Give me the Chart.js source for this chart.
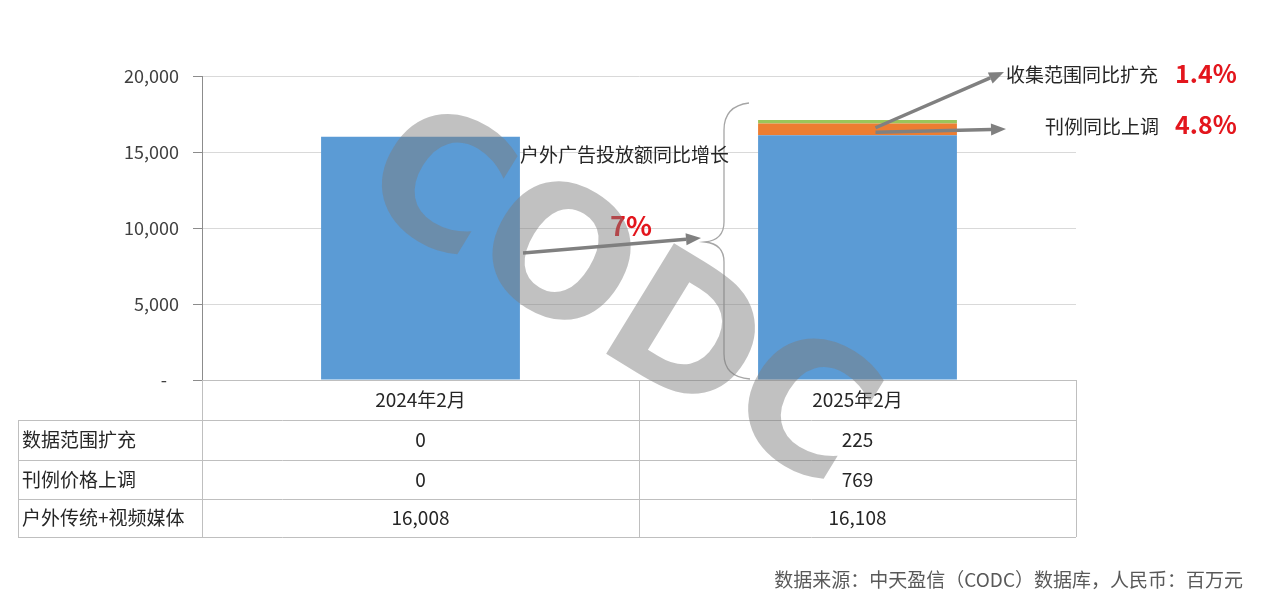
<!DOCTYPE html>
<html>
<head>
<meta charset="utf-8">
<script src="https://cdn.jsdelivr.net/npm/chart.js@4.4.1/dist/chart.umd.min.js"></script>
<style>
html,body{margin:0;padding:0;background:#fff;}
#wrap{width:1286px;height:612px;position:relative;}
</style>
</head>
<body>
<div id="wrap"><canvas id="c"></canvas></div>
<script>
const categories = ['2024年2月', '2025年2月'];
const baseMedia = [16008, 16108];      // 户外传统+视频媒体
const priceUp = [0, 769];              // 刊例价格上调
const scopeUp = [0, 225];              // 数据范围扩充
const seriesNames = ['户外传统+视频媒体', '刊例价格上调', '数据范围扩充'];
const yTicks = [0, 5000, 10000, 15000, 20000];
const growthTotal = '7%';
const growthScope = '1.4%';
const growthPrice = '4.8%';

const FONT = '"Noto Sans CJK SC", "Noto Sans", sans-serif';
const fmt = v => v.toLocaleString('en-US');

function arrow(ctx, x1, y1, x2, y2) {
  const ang = Math.atan2(y2 - y1, x2 - x1);
  const hl = 15, hw = 6;
  const bx = x2 - hl * Math.cos(ang), by = y2 - hl * Math.sin(ang);
  ctx.save();
  ctx.strokeStyle = '#808080';
  ctx.fillStyle = '#808080';
  ctx.lineWidth = 3.5;
  ctx.beginPath(); ctx.moveTo(x1, y1); ctx.lineTo(bx, by); ctx.stroke();
  ctx.beginPath();
  ctx.moveTo(x2, y2);
  ctx.lineTo(bx + hw * Math.sin(ang), by - hw * Math.cos(ang));
  ctx.lineTo(bx - hw * Math.sin(ang), by + hw * Math.cos(ang));
  ctx.closePath(); ctx.fill();
  ctx.restore();
}

const extras = {
  id: 'extras',
  afterDraw(chart) {
    const ctx = chart.ctx;
    const xs = chart.scales.x, ys = chart.scales.y;
    const area = chart.chartArea;
    const L = 18, R = area.right, top = area.bottom;
    const rowsY = [top, top + 40, top + 80, top + 119, top + 157];
    // table lines
    ctx.save();
    ctx.strokeStyle = '#bfbfbf';
    ctx.lineWidth = 1;
    ctx.beginPath();
    ctx.moveTo(area.left, rowsY[0] + 0.5); ctx.lineTo(R, rowsY[0] + 0.5);
    for (let i = 1; i < rowsY.length; i++) { ctx.moveTo(L, rowsY[i] + 0.5); ctx.lineTo(R, rowsY[i] + 0.5); }
    ctx.moveTo(L + 0.5, rowsY[1]); ctx.lineTo(L + 0.5, rowsY[4]);
    const mid = (xs.getPixelForValue(0) + xs.getPixelForValue(1)) / 2;
    [area.left, mid, R].forEach(x => { ctx.moveTo(Math.round(x) + 0.5, rowsY[0]); ctx.lineTo(Math.round(x) + 0.5, rowsY[4]); });
    ctx.stroke();
    // table text
    ctx.fillStyle = '#262626';
    ctx.font = '19px ' + FONT;
    ctx.textBaseline = 'middle';
    ctx.textAlign = 'center';
    categories.forEach((c, i) => ctx.fillText(c, xs.getPixelForValue(i), (rowsY[0] + rowsY[1]) / 2));
    const rows = [[seriesNames[2], scopeUp], [seriesNames[1], priceUp], [seriesNames[0], baseMedia]];
    rows.forEach((r, k) => {
      const cy = (rowsY[k + 1] + rowsY[k + 2]) / 2;
      ctx.textAlign = 'left';
      ctx.fillText(r[0], L + 4, cy);
      ctx.textAlign = 'center';
      r[1].forEach((v, i) => ctx.fillText(fmt(v), xs.getPixelForValue(i), cy));
    });
    // brace
    ctx.strokeStyle = '#a6a6a6';
    ctx.lineWidth = 1.3;
    ctx.beginPath();
    ctx.moveTo(749, 103);
    ctx.quadraticCurveTo(724, 106, 724, 130);
    ctx.lineTo(724, 222);
    ctx.quadraticCurveTo(724, 240, 705, 242);
    ctx.quadraticCurveTo(724, 244, 724, 262);
    ctx.lineTo(724, 354);
    ctx.quadraticCurveTo(724, 377, 750, 379);
    ctx.stroke();
    // arrows
    arrow(ctx, 523, 253, 701, 238);
    const x2 = xs.getPixelForValue(1);
    arrow(ctx, x2 + 18, ys.getPixelForValue(baseMedia[1] + priceUp[1] + scopeUp[1] / 2) + 6, 1004, 72);
    arrow(ctx, x2 + 18, ys.getPixelForValue(baseMedia[1] + priceUp[1] / 2) + 3, 1006, 129);
    // annotation texts
    ctx.textAlign = 'left';
    ctx.fillStyle = '#262626';
    ctx.font = '19px ' + FONT;
    ctx.fillText('户外广告投放额同比增长', 520, 155);
    ctx.fillText('收集范围同比扩充', 1006, 75);
    ctx.fillText('刊例同比上调', 1045, 127);
    ctx.fillStyle = '#e3161d';
    ctx.font = 'bold 27px ' + FONT;
    ctx.fillText(growthTotal, 610, 226);
    ctx.font = 'bold 25px ' + FONT;
    ctx.fillText(growthScope, 1175, 73);
    ctx.fillText(growthPrice, 1175, 124);
    // source
    ctx.fillStyle = '#595959';
    ctx.font = '19px ' + FONT;
    ctx.textAlign = 'right';
    ctx.fillText('数据来源：中天盈信（CODC）数据库，人民币：百万元', 1243, 580);
    // watermark
    ctx.translate(615, 305);
    ctx.rotate(0.55);
    ctx.font = 'bold 178px "DejaVu Sans", sans-serif';
    ctx.textAlign = 'center';
    ctx.fillStyle = 'rgba(125,125,125,0.48)';
    ctx.fillText('CODC', 0, 0);
    ctx.restore();
  }
};

new Chart(document.getElementById('c'), {
  type: 'bar',
  data: {
    labels: categories,
    datasets: [
      { label: seriesNames[0], data: baseMedia, backgroundColor: '#5b9bd5' },
      { label: seriesNames[1], data: priceUp, backgroundColor: '#ed7d31' },
      { label: seriesNames[2], data: scopeUp, backgroundColor: '#9bc55a' }
    ]
  },
  options: {
    responsive: true,
    maintainAspectRatio: false,
    animation: false,
    layout: { padding: { left: 0, right: 210, top: 76, bottom: 232 } },
    datasets: { bar: { categoryPercentage: 1, barPercentage: 0.455 } },
    plugins: { legend: { display: false }, tooltip: { enabled: false } },
    scales: {
      x: { stacked: true, display: false },
      y: {
        stacked: true,
        min: 0, max: 20000,
        afterFit(s) { s.width = 202; },
        afterBuildTicks(s) { s.ticks = yTicks.map(v => ({ value: v })); },
        ticks: {
          padding: 14,
          color: '#404040',
          font: { size: 18, family: FONT },
          callback: v => v === 0 ? '-   ' : fmt(v)
        },
        grid: { color: '#d9d9d9', tickLength: 9, tickColor: '#8c8c8c' },
        border: { color: '#8c8c8c' }
      }
    }
  },
  plugins: [extras]
});
</script>
</body>
</html>
